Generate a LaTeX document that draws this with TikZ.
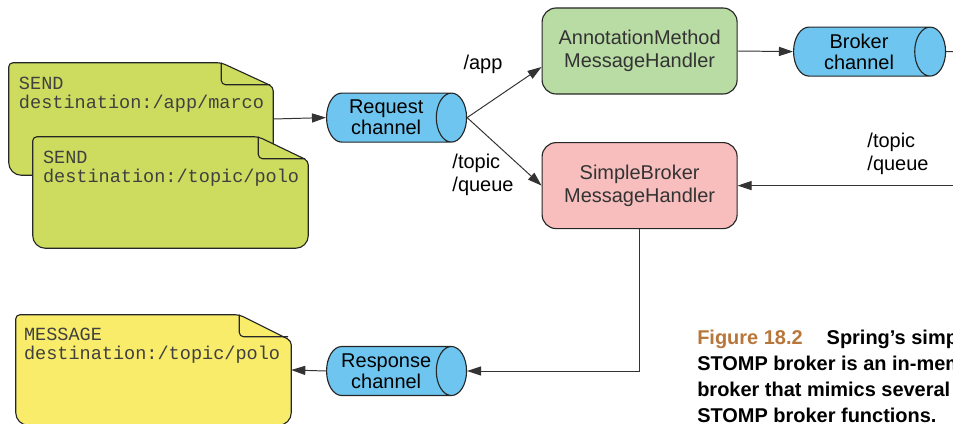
\documentclass[tikz,border=0pt]{standalone}
\usepackage{fontspec}
\setmainfont{Liberation Sans}
\setmonofont{Liberation Mono}
\usetikzlibrary{arrows.meta,positioning,shapes.geometric,calc}

\definecolor{notelime}{HTML}{CDDC5F}
\definecolor{noteyellow}{HTML}{F8EC6A}
\definecolor{handlergreen}{HTML}{B9DCA5}
\definecolor{handlerpink}{HTML}{F8BEBE}
\definecolor{chanblue}{HTML}{6EC6F0}
\definecolor{figcopper}{HTML}{B8763A}

\begin{document}
\begin{tikzpicture}[
  font=\fontsize{14.2}{16.5}\selectfont,
  handler/.style={draw=black!85, line width=0.8pt, rounded corners=10pt, align=center,
                  minimum width=4.875cm, minimum height=2.15cm, text=black!80},
  channel/.style={cylinder, shape aspect=0.8, draw=black!85, line width=0.8pt, fill=chanblue,
                  minimum height=3.5cm, minimum width=1.225cm, align=center, inner sep=1pt,
                  anchor=west, font=\fontsize{14.2}{15}\selectfont},
  notebox/.style={inner sep=0pt},
  note/.style={draw=black!85, line width=0.8pt, rounded corners=3pt},
  notetext/.style={inner sep=0pt, align=left, text=black!75,
                   font=\ttfamily\fontsize{13.2}{13.5}\selectfont},
  lbl/.style={align=left, inner sep=0pt},
  link/.style={draw=black!80, line width=0.7pt, -{Triangle[length=10pt,width=6.5pt]}},
  wire/.style={draw=black!80, line width=0.7pt},
  caption/.style={align=left, inner sep=0pt, font=\bfseries\fontsize{14.2}{18.5}\selectfont}
]
\useasboundingbox (0,0) rectangle (23.825,-10.6);
\clip (0,0) rectangle (23.825,-10.6);

% outgoing frames
\node[notebox, minimum width=6.6cm, minimum height=2.8cm] (marco) at (3.525,-2.975) {};
\filldraw[note, fill=notelime] (marco.north west) -- ([xshift=-1.3cm]marco.north east)
  -- ([yshift=-0.6cm]marco.north east) [rounded corners=9pt] -- (marco.south east)
  -- (marco.south west) [rounded corners=3pt] -- cycle;
\draw[note] ([xshift=-1.3cm]marco.north east) -- ++(0,-0.55) -- ([xshift=-0.08cm,yshift=-0.55cm]marco.north east);
\node[notetext, below right=0.35cm and 0.25cm of marco.north west] (marcotxt) {SEND\\destination:/app/marco};

\node[notebox, minimum width=6.875cm, minimum height=2.775cm] (polo) at (4.2625,-4.8125) {};
\filldraw[note, fill=notelime] (polo.north west) -- ([xshift=-1.25cm]polo.north east)
  -- ([yshift=-0.6cm]polo.north east) [rounded corners=9pt] -- (polo.south east)
  -- (polo.south west) [rounded corners=3pt] -- cycle;
\draw[note] ([xshift=-1.25cm]polo.north east) -- ++(0,-0.55) -- ([xshift=-0.08cm,yshift=-0.55cm]polo.north east);
\node[notetext, below right=0.35cm and 0.25cm of polo.north west] (polotxt) {SEND\\destination:/topic/polo};

% incoming frame
\node[notebox, minimum width=6.875cm, minimum height=2.75cm] (msg) at (3.8375,-9.25) {};
\filldraw[note, fill=noteyellow] (msg.north west) -- ([xshift=-1.3cm]msg.north east)
  -- ([yshift=-0.65cm]msg.north east) [rounded corners=9pt] -- (msg.south east)
  -- (msg.south west) [rounded corners=3pt] -- cycle;
\draw[note] ([xshift=-1.3cm]msg.north east) -- ++(0,-0.55) -- ([xshift=-0.08cm,yshift=-0.55cm]msg.north east);
\node[notetext, below right=0.33cm and 0.2cm of msg.north west] (msgtxt) {MESSAGE\\destination:/topic/polo};

% handlers and channels
\node[handler, fill=handlergreen] (ammh) at (15.99,-1.275) {AnnotationMethod\\MessageHandler};
\node[handler, fill=handlerpink] (sbmh) at (15.99,-4.64) {SimpleBroker\\MessageHandler};
\node[channel] (req) at (8.15,-2.94) {Request\\channel};
\node[channel, minimum height=3.8cm] (broker) at (19.825,-1.29) {Broker\\channel};
\node[channel] (resp) at (8.15,-9.275) {Response\\channel};
\coordinate (brokerout) at (24.2,-1.29);
\coordinate (topicin) at (24.2,-4.64);

\node[lbl] (applbl) at (12.075,-1.6) {/app};
\node[lbl] (reqlbl) at (12.075,-4.375) {/topic\\/queue};
\node[lbl] (brokerlbl) at (22.45,-3.84) {/topic\\/queue};

\draw[link] (marco.east) -- (req.west);
\draw[link] (req.east) -- ([yshift=-0.4cm]ammh.west);
\draw[link] (req.east) -- (sbmh.west);
\draw[link] (ammh.east) -- (broker.west);
\draw[wire] (broker.east) -- (brokerout);
\draw[link] (topicin) -- (sbmh.east);
\draw[link] (sbmh.south) |- (resp.east);
\draw[link] (resp.west) -- (msg.east);

\node[caption, anchor=north west] (caption) at (17.425,-8.24)
  {\textcolor{figcopper}{Figure 18.2}\hspace{0.6cm}Spring's simp\\STOMP broker is an in-mem\\broker that mimics several\\STOMP broker functions.};
\end{tikzpicture}
\end{document}
